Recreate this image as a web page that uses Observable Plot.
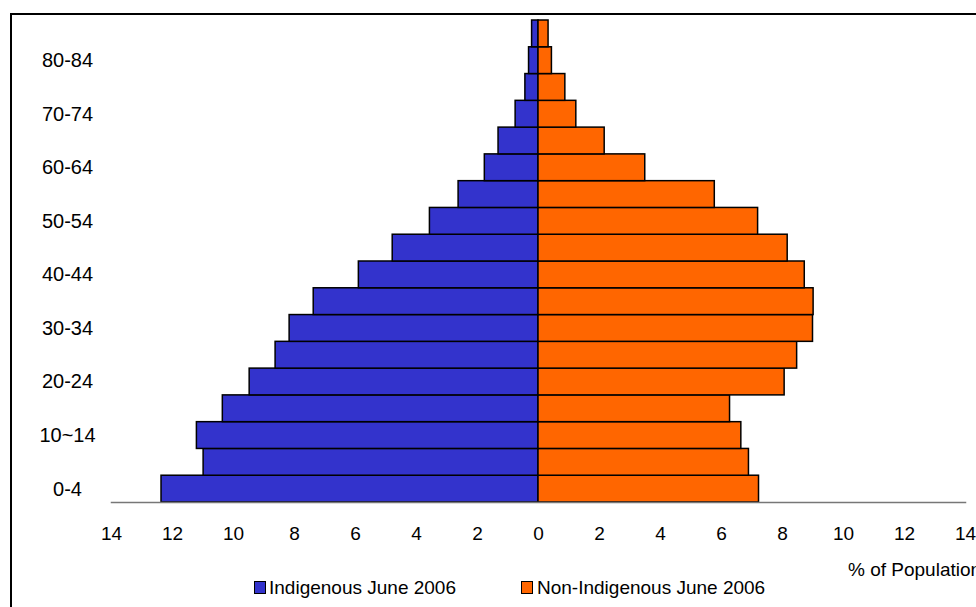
<!DOCTYPE html>
<html>
<head>
<meta charset="utf-8">
<script src="https://cdn.jsdelivr.net/npm/d3@7"></script>
<script src="https://cdn.jsdelivr.net/npm/@observablehq/plot@0.6"></script>
<style>
  html, body { margin: 0; padding: 0; background: #fff; }
  #wrap { position: relative; width: 976px; height: 607px; overflow: hidden; font-family: "Liberation Sans", Arial, sans-serif; }
  #border { position: absolute; left: 10px; top: 13px; width: 980px; height: 600px; border-left: 2.5px solid #000; border-top: 2.5px solid #000; }
  #chart { position: absolute; left: 0; top: 0; }
  .lbl { position: absolute; font-size: 19px; color: #000; white-space: nowrap; line-height: 1; }
  .sw { position: absolute; width: 10px; height: 11px; border: 1px solid #000; }
</style>
</head>
<body>
<div id="wrap">
  <div id="border"></div>
  <div id="chart"></div>
  <div class="lbl" id="xlabel" style="left:848px; top:560px;"></div>
  <div class="sw" id="sw0" style="left:254px; top:581px;"></div>
  <div class="lbl" id="leg0" style="left:269px; top:578px;"></div>
  <div class="sw" id="sw1" style="left:521px; top:581px;"></div>
  <div class="lbl" id="leg1" style="left:537px; top:578px;"></div>
</div>
<script>
const ages = ["0-4","5-9","10~14","15-19","20-24","25-29","30-34","35-39","40-44","45-49","50-54","55-59","60-64","65-69","70-74","75-79","80-84","85+"];
const indigenous = [12.36,10.98,11.2,10.35,9.47,8.62,8.16,7.37,5.89,4.78,3.56,2.62,1.76,1.31,0.75,0.43,0.31,0.21];
const nonIndigenous = [7.23,6.9,6.65,6.28,8.07,8.48,9.0,9.02,8.73,8.17,7.2,5.78,3.5,2.17,1.24,0.88,0.44,0.33];
const seriesNames = ["Indigenous June 2006", "Non-Indigenous June 2006"];
const seriesColors = ["#3333CC", "#FF6600"];
const yTickLabels = ["0-4","10~14","20-24","30-34","40-44","50-54","60-64","70-74","80-84"];
const xTicks = [-14,-12,-10,-8,-6,-4,-2,0,2,4,6,8,10,12,14];
const xLabel = "% of Population";

const rows = [];
ages.forEach((a, i) => {
  rows.push({age: a, v: -indigenous[i], s: seriesNames[0]});
  rows.push({age: a, v: nonIndigenous[i], s: seriesNames[1]});
});

const chart = Plot.plot({
  width: 976,
  height: 560,
  marginLeft: 111,
  marginRight: 11,
  marginTop: 20,
  marginBottom: 58,
  style: {fontFamily: '"Liberation Sans", Arial, sans-serif', fontSize: "19px", color: "#000", background: "transparent"},
  x: {domain: [-14, 14]},
  y: {domain: ages.slice().reverse(), padding: 0, round: false},
  color: {domain: seriesNames, range: seriesColors},
  marks: [
    Plot.barX(rows, {x1: d => 0, x2: "v", y: "age", fill: "s", stroke: "#000", strokeWidth: 1.5}),
    Plot.frame({anchor: "bottom", stroke: "#777", strokeWidth: 1.5}),
    Plot.axisX({ticks: xTicks, tickFormat: d => Math.abs(d), tickSize: 0, tickPadding: 24, label: null, fontSize: 19}),
    Plot.axisY({ticks: yTickLabels, tickSize: 0, tickPadding: 44, textAnchor: "middle", label: null, fontSize: 20})
  ]
});
document.getElementById("chart").appendChild(chart);
document.getElementById("xlabel").textContent = xLabel;
document.getElementById("leg0").textContent = seriesNames[0];
document.getElementById("leg1").textContent = seriesNames[1];
document.getElementById("sw0").style.background = seriesColors[0];
document.getElementById("sw1").style.background = seriesColors[1];
</script>
</body>
</html>
